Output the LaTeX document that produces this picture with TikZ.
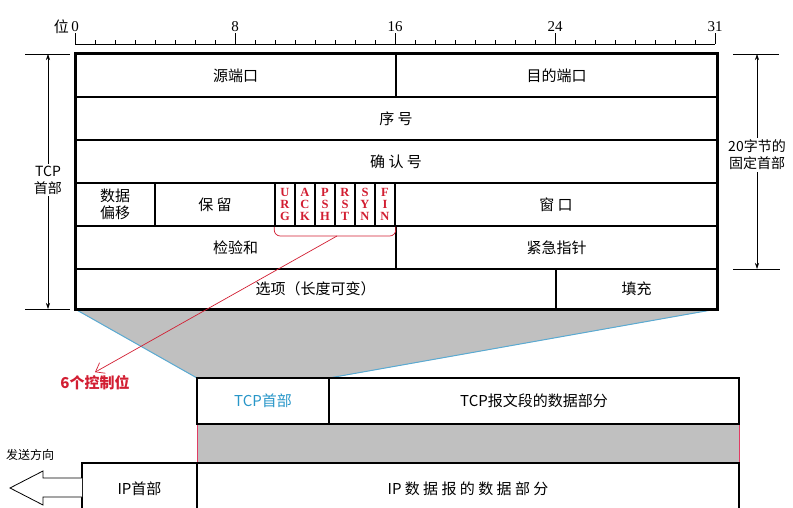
\documentclass[tikz,border=0pt]{standalone}
\usepackage{fontspec}
\setmainfont{Noto Sans CJK SC}
\newfontfamily\flagfont{Liberation Serif}
\usetikzlibrary{arrows.meta}

\definecolor{band}{RGB}{192,192,192}
\definecolor{edgeblue}{RGB}{90,170,210}
\definecolor{hdrblue}{RGB}{40,150,200}
\definecolor{ctlred}{RGB}{210,30,50}
\definecolor{pinkedge}{RGB}{225,60,100}

\tikzset{
  cell/.style = {draw, line width=1.5pt, inner sep=0pt, minimum height=43pt, font=\fontsize{15}{18}\selectfont},
  flagcell/.style = {draw, line width=1.5pt, inner sep=0pt, minimum height=43pt, minimum width=20pt, align=center, text=ctlred, font=\flagfont\bfseries\fontsize{12.5}{12}\selectfont},
  seg/.style = {draw, line width=2.5pt, inner sep=0pt, minimum height=46pt, font=\fontsize{15}{18}\selectfont},
  dim/.style = {line width=0.6pt},
  dimlabel/.style = {fill=white, inner sep=2pt, align=center, font=\fontsize{14}{17}\selectfont}
}

\begin{document}
\begin{tikzpicture}[x=1pt, y=-1pt]
            \useasboundingbox (0,0) rectangle (793,508);

            % ruler
            \draw[line width=0.8pt] (75,44) -- (715,44);
            \foreach \i in {0,...,32}{\draw[line width=0.8pt] (75+20*\i,44) -- ++(0,-4);}
            \foreach \i/\t in {0/0, 8/8, 16/16, 24/24, 32/31}{
            \draw[line width=1pt] (75+20*\i,44) -- ++(0,-11);
            \node[above, inner sep=1pt, font=\flagfont\fontsize{15}{17}\selectfont] (bit\i) at (75+20*\i,33) {\t};}
            \node[left, inner sep=1pt, font=\fontsize{15}{17}\selectfont] (pos) at (bit0.west) {位};

            % gray bands
            \filldraw[band] (75,309) -- (717,309) -- (329,378) -- (197,378) -- cycle;
            \draw[edgeblue, line width=1pt] (75,309) -- (197,378);
            \draw[edgeblue, line width=1pt] (717,309) -- (329,378);
            \fill[band] (197,424) rectangle (739,463);
            \draw[pinkedge, line width=0.8pt] (197,424) -- (197,463);
            \draw[pinkedge, line width=0.8pt] (739,424) -- (739,463);

            % header fields
            \node[cell, minimum width=321pt] (src) at (235.5,75.5) {源端口};
            \node[cell, minimum width=321pt] (dst) at (556.5,75.5) {目的端口};
            \node[cell, minimum width=642pt] (seq) at (396,118.5) {序 号};
            \node[cell, minimum width=642pt] (ack) at (396,161.5) {确 认 号};
            \node[cell, minimum width=80pt, align=center, font=\fontsize{15}{17}\selectfont] (off) at (115,204.5) {数据\\偏移};
            \node[cell, minimum width=120pt] (rsv) at (215,204.5) {保 留};
            \foreach \n/\a/\b/\c [count=\i from 0] in {
            urg/U/R/G,
            ackf/A/C/K,
            psh/P/S/H,
            rst/R/S/T,
            syn/S/Y/N,
            fin/F/I/N
            }{\node[flagcell] (\n) at (285+20*\i,204.5) {\a\\\b\\\c};}
            \node[cell, minimum width=322pt] (win) at (556,204.5) {窗 口};
            \node[cell, minimum width=321pt] (chk) at (235.5,247.5) {检验和};
            \node[cell, minimum width=321pt] (urp) at (556.5,247.5) {紧急指针};
            \node[cell, minimum width=481pt, minimum height=40pt] (opt) at (315.5,289) {选项（长度可变）};
            \node[cell, minimum width=161pt, minimum height=40pt] (pad) at (636.5,289) {填充};
            \draw[line width=3pt] (75,54) rectangle (717,309);

            % control bits
            \coordinate (bmid) at (337,236);
            \draw[ctlred, line width=0.7pt, rounded corners=6pt] (urg.south west) |- (bmid) -| (fin.south east);
            \node[text=ctlred, font=\bfseries\fontsize{15}{18}\selectfont] (ctl) at (95,383) {6个控制位};
            \draw[ctlred, line width=0.7pt, -{Straight Barb[length=8pt, width=12pt]}] (bmid) -- (ctl.north);

            % dimensions
            \coordinate (lt) at (48,54);
            \coordinate (lb) at (48,309);
            \draw[dim] (25,54) -- (70,54);
            \draw[dim] (25,309) -- (70,309);
            \draw[dim, {Stealth[length=6pt, width=4pt]}-{Stealth[length=6pt, width=4pt]}] (lt) -- (lb);
            \node[dimlabel] (tcplen) at (48,180) {TCP\\首部};
            \coordinate (rt) at (757,54);
            \coordinate (rb) at (757,269);
            \draw[dim] (733,54) -- (779,54);
            \draw[dim] (733,269) -- (780,269);
            \draw[dim, {Stealth[length=6pt, width=4pt]}-{Stealth[length=6pt, width=4pt]}] (rt) -- (rb);
            \node[dimlabel] (fixlen) at (757,155) {20字节的\\固定首部};

            % TCP segment and IP datagram
            \node[seg, minimum width=132pt, text=hdrblue] (thdr) at (263,401) {TCP首部};
            \node[seg, minimum width=410pt] (tdata) at (534,401) {TCP报文段的数据部分};
            \node[seg, minimum width=115pt, minimum height=52pt] (ihdr) at (139.5,489) {IP首部};
            \node[seg, minimum width=542pt, minimum height=52pt] (idata) at (468,489) {IP 数 据 报 的 数 据 部 分};

            % direction
            \draw[line width=0.8pt, fill=white] (82,478) -- (43,478) -- (43,471) -- (10,488) -- (43,505) -- (43,497) -- (82,497);
            \node[font=\fontsize{12}{14}\selectfont] (dir) at (30,455) {发送方向};
        \end{tikzpicture}
\end{document}
